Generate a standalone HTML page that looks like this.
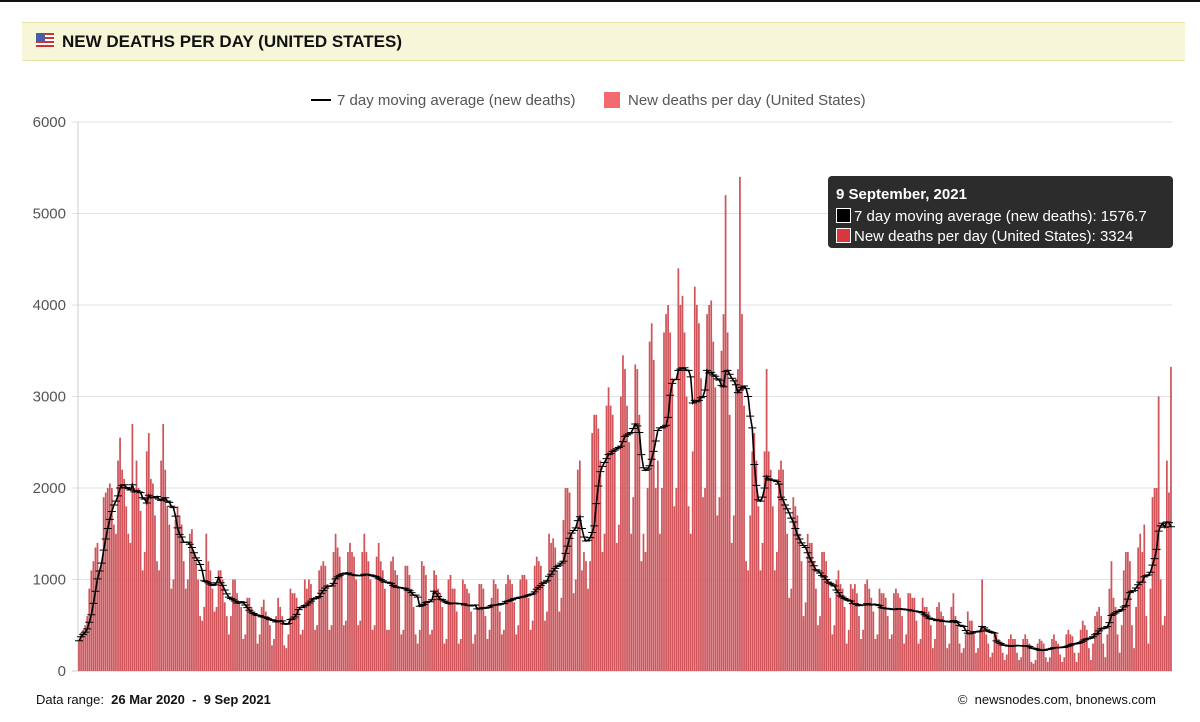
<!DOCTYPE html>
<html><head><meta charset="utf-8"><style>
body{margin:0;width:1200px;height:722px;background:#fff;font-family:"Liberation Sans",sans-serif;position:relative;overflow:hidden}
#topline{position:absolute;left:0;top:0;width:1200px;height:2px;background:#111}
#hdr{position:absolute;left:22px;top:22px;width:1163px;height:37px;background:#f7f6d8;border-top:1px solid #e4e2a8;border-bottom:1px solid #e4e2a8}
#hdr span{position:absolute;left:40px;top:9px;font-weight:bold;font-size:17px;color:#111}
#flag{position:absolute;left:14px;top:10px;width:18px;height:14px;background:repeating-linear-gradient(#c33 0 2px,#fff 2px 4px)}
#flag i{position:absolute;left:0;top:0;width:9px;height:8px;background:#4a5ea8}
#foot-l{position:absolute;left:36px;top:692px;font-size:13px;color:#111}
#foot-r{position:absolute;right:44px;top:692px;font-size:13px;color:#111}
#tip{position:absolute;left:828px;top:176px;width:345px;height:72px;background:#2c2c2c;border-radius:4px;color:#fff;font-size:15px}
#tip .t{position:absolute;left:8px;top:10px;font-weight:bold}
#tip .r{position:absolute;left:8px;white-space:nowrap}
#tip .sw{display:inline-block;width:13px;height:13px;border:1px solid #fff;vertical-align:-2px;margin-right:3px}
</style></head><body>
<div id="topline"></div>
<div id="hdr"><div id="flag"><i></i></div><span>NEW DEATHS PER DAY (UNITED STATES)</span></div>
<svg id="chart" width="1200" height="722" style="position:absolute;left:0;top:0"></svg>
<div id="tip">
<div class="t">9 September, 2021</div>
<div class="r" style="top:32px"><span class="sw" style="background:#000"></span>7 day moving average (new deaths): 1576.7</div>
<div class="r" style="top:52px"><span class="sw" style="background:#d9363e"></span>New deaths per day (United States): 3324</div>
</div>
<div id="foot-l">Data range:&nbsp; <b>26 Mar 2020 &nbsp;- &nbsp;9 Sep 2021</b></div>
<div id="foot-r">©&nbsp; newsnodes.com, bnonews.com</div>
<script>
const yTicks=[0,1000,2000,3000,4000,5000,6000];
const legendLabels=["7 day moving average (new deaths)","New deaths per day (United States)"];
const dailyDeaths=[
330,420,450,500,600,900,1100, 1200,1350,1400,1100,1200,1900,1950, 2000,2050,2000,1600,1500,2300,2550,
2200,2100,1800,1500,1400,2700,2000, 2300,2000,1750,1100,1300,2400,2600, 2100,2050,1700,1200,1100,2300,2700,
2200,1800,1600,900,1000,1650,1800, 1700,1600,1200,900,1000,1500,1550, 1300,1200,1000,600,550,700,1500,
1200,1100,900,650,700,1100,1100, 1000,750,600,400,600,1000,1000, 850,750,700,350,400,800,800,
700,650,600,300,400,700,780, 650,600,500,280,350,600,800, 700,600,280,250,400,900,850,
850,800,650,400,450,1000,900, 1000,950,800,450,500,1100,1150, 1200,1150,950,450,500,1300,1500,
1350,1250,1050,500,550,1300,1400, 1300,1250,1000,500,550,1300,1500, 1300,1200,1000,450,500,1250,1400,
1200,1100,900,450,450,1200,1250, 1100,1050,900,400,450,1150,1150, 1050,900,700,400,300,450,1200,
1150,1050,750,400,450,1100,1050, 900,850,700,300,350,1000,1050, 900,900,650,300,350,1000,950,
900,850,650,300,400,700,950, 950,900,600,350,450,800,1000, 950,900,650,400,450,950,1050,
1000,950,750,400,500,1000,1050, 1050,1000,800,450,550,1150,1250, 1200,1150,950,550,650,1500,1400,
1450,1350,1100,650,800,1650,2000, 2000,1950,1500,850,1000,2200,2300, 1100,1300,1200,900,1200,2600,2800,
2800,2650,2300,1300,1500,2900,3100, 2900,2800,2400,1400,1600,3000,3450, 3300,2900,2500,1500,1900,3350,3300,
2800,1200,1500,1300,2000,3600,3800, 3400,2000,2300,1500,2000,3700,3900, 4000,3700,3200,1800,2000,4400,4000,
4100,3700,3000,1800,1500,2400,4200, 4000,3800,3200,1900,2000,3900,4000, 4050,3600,3100,1700,1900,3500,3900,
5200,3700,2800,1400,1700,3200,3300, 5400,3900,2900,1200,1100,1700,2400, 2600,2300,1800,1100,1400,2400,3300,
2400,2200,1800,1100,1300,2200,2300, 2200,1800,1500,800,900,1900,1800, 1700,1500,1200,600,750,1500,1400,
1400,1200,900,500,600,1300,1300, 1200,1000,800,400,500,1000,1100, 950,900,700,300,450,950,900,
950,850,600,350,450,950,1000, 900,800,650,350,400,900,850, 850,800,600,350,400,850,900,
850,800,600,300,400,850,850, 800,800,550,300,350,800,700, 700,650,500,250,350,700,750,
650,600,500,250,300,700,850, 600,500,300,200,250,400,650, 550,550,400,200,250,450,1000,
450,400,300,150,200,400,400, 350,300,200,120,180,350,400, 350,350,200,120,150,350,400,
350,300,100,80,120,300,350, 330,300,150,100,150,350,400, 330,300,180,100,150,400,450,
400,380,200,100,200,450,550, 500,450,250,120,300,600,650, 700,600,300,150,400,900,1200,
800,700,400,200,500,1100,1300, 1300,1200,500,250,700,1350,1500, 1300,1600,600,300,900,1900,2000,
2000,3000,1000,500,600,2300,1950, 3324];
const movingAvgEnd=[1576.7];

const svg=document.getElementById('chart');const NS='http://www.w3.org/2000/svg';
const X0=78,X1=1172,Y0=671,Y1=122,YMAX=6000;
const n=dailyDeaths.length;const step=(X1-X0)/n;
function xs(i){return X0+step*(i+0.5);}
function ys(v){return Y0-(v/YMAX)*(Y0-Y1);}
function mk(tag,at){const e=document.createElementNS(NS,tag);for(const k in at)e.setAttribute(k,at[k]);svg.appendChild(e);return e;}
yTicks.forEach(t=>{
 const g=mk('line',{x1:X0-6,x2:X1,y1:ys(t),y2:ys(t),stroke:t===0?'#ccc':'#e2e2e2','stroke-width':1});
 
 
 const tx=mk('text',{x:66,y:ys(t)+5,'text-anchor':'end','font-size':15,fill:'#555','font-family':'Liberation Sans, sans-serif'});
 tx.textContent=t;
 
 
});
mk('line',{x1:X0,x2:X0,y1:Y1,y2:Y0,stroke:'#ccc'});
const bw=step*0.85;
dailyDeaths.forEach((v,i)=>{
 const r=mk('rect',{x:xs(i)-bw/2,y:ys(v),width:bw,height:Y0-ys(v),fill:'#cf555b'});
 
 
});
const ma=dailyDeaths.map((v,i)=>{const s=dailyDeaths.slice(Math.max(0,i-6),i+1);return s.reduce((a,b)=>a+b,0)/s.length;});
ma[n-1]=movingAvgEnd[0];
const pl=mk('polyline',{points:ma.map((v,i)=>xs(i)+','+ys(v)).join(' '),fill:'none',stroke:'#000','stroke-width':1.6});


let d='';ma.forEach((v,i)=>{d+='M'+(xs(i)-4)+' '+ys(v)+'h8';});
const mkp=mk('path',{d:d,stroke:'#000','stroke-width':1});


const l1=mk('line',{x1:311,x2:331,y1:100,y2:100,stroke:'#000','stroke-width':2});


const t1=mk('text',{x:337,y:105,'font-size':15,fill:'#555','font-family':'Liberation Sans, sans-serif'});t1.textContent=legendLabels[0];


const r2=mk('rect',{x:604,y:92,width:16,height:16,fill:'#f26b70'});


const t2=mk('text',{x:628,y:105,'font-size':15,fill:'#555','font-family':'Liberation Sans, sans-serif'});t2.textContent=legendLabels[1];


</script>
</body></html>
